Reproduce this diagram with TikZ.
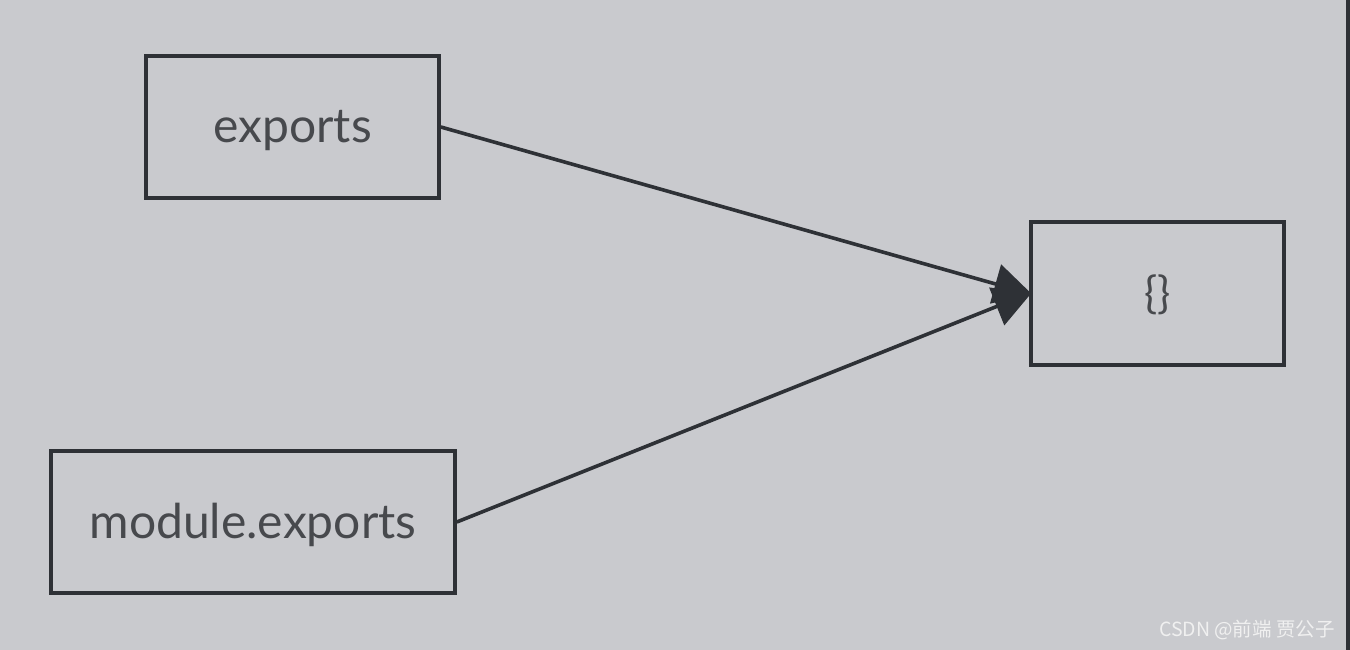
\documentclass[tikz,border=0pt]{standalone}
\usepackage{fontspec}
\setmainfont{Lato}
\newfontfamily\cjk{Noto Sans CJK SC}
\usetikzlibrary{arrows.meta}
\definecolor{bg}{HTML}{C9CACE}
\definecolor{ink}{HTML}{2E3136}
\definecolor{txt}{HTML}{47494D}
\newcommand{\lbl}[2]{\raisebox{-#1}[0pt][0pt]{#2}}
\tikzset{
  box/.style={draw=ink, line width=3.6pt, fill=none, text=txt, inner sep=0pt, font=\fontsize{48}{56}\selectfont},
  arr/.style={draw=ink, line width=3.6pt, -{Triangle[length=38pt,width=40pt]}, shorten >=-3pt}
}
\begin{document}
\begin{tikzpicture}[x=1pt,y=-1pt]
\fill[bg] (0,0) rectangle (1350,650);
\useasboundingbox (0,0) rectangle (1350,650);
\fill[ink] (1346,0) rectangle (1350,650);
\node[box, minimum width=293pt, minimum height=142pt] (a) at (292.5,127) {\lbl{16pt}{exports}};
\node[box, minimum width=404pt, minimum height=142pt] (b) at (253,522) {\lbl{16pt}{module.exports}};
\node[box, minimum width=253pt, minimum height=143pt, font=\fontsize{44}{50}\selectfont] (c) at (1157.5,293.5) {\lbl{15pt}{\{\}}};
\draw[arr] (a.east) -- (c.west);
\draw[arr] (b.east) -- (c.west);
\node[anchor=east, text=white!88!gray, inner sep=0pt, font=\fontsize{19.5}{22}\selectfont\cjk] (w) at (1335,630) {CSDN @前端 贾公子};
\end{tikzpicture}
\end{document}
